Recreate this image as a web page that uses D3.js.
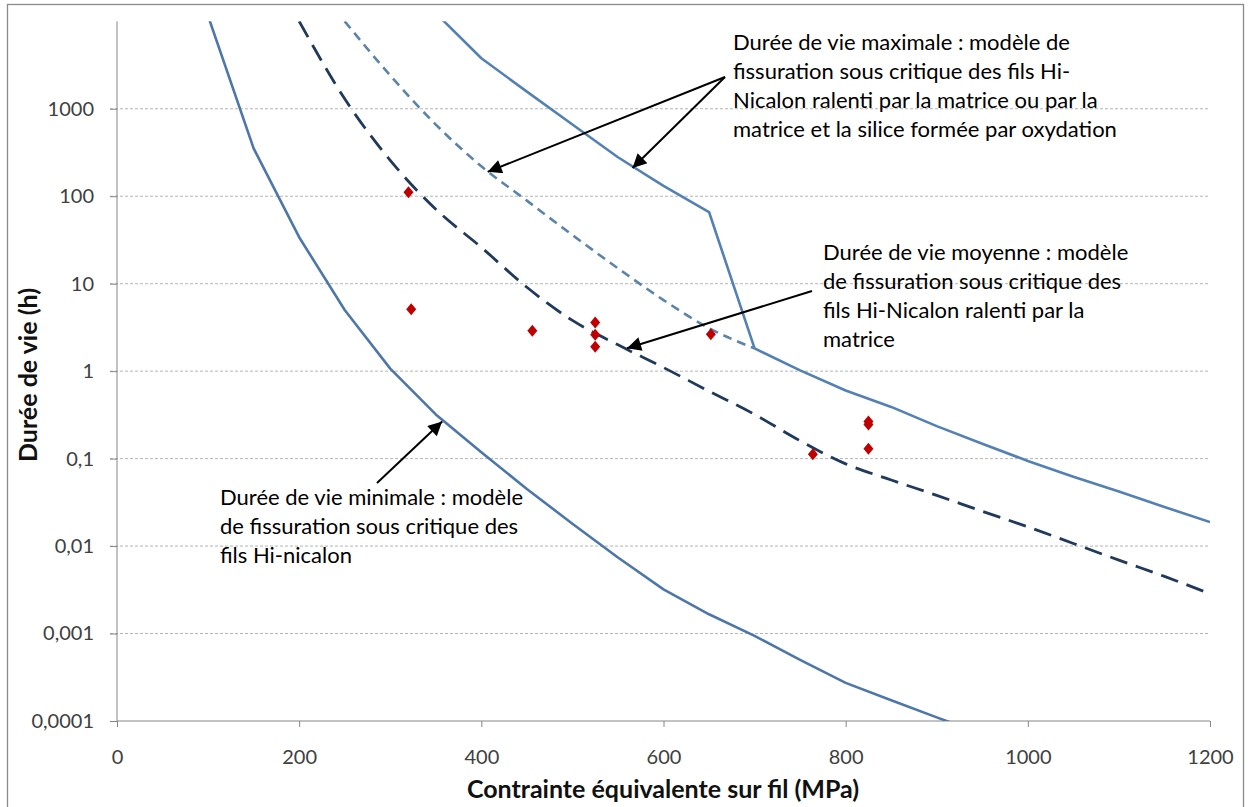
<!DOCTYPE html>
<html><head><meta charset="utf-8">
<script src="https://cdn.jsdelivr.net/npm/d3@7"></script>
<style>
html,body{margin:0;padding:0;background:#fff;}
svg{display:block;}
text{font-family:Lato,"Open Sans",sans-serif;}
</style></head>
<body>
<svg id="chart" width="1250" height="807"></svg>
<script>
// ---- data ----
const xTicks = [0,200,400,600,800,1000,1200];
const yTicks = [0.0001,0.001,0.01,0.1,1,10,100,1000];
const yTickLabels = ["0,0001","0,001","0,01","0,1","1","10","100","1000"];

// minimum lifetime model (solid)
const stressMin = [100,150,200,250,300,350,400,450,500,550,600,650,700,750,800,850,900,950];
const lifeMin   = [11500,352,34,5.0,1.07,0.32,0.118,0.045,0.018,0.0074,0.0032,0.00166,0.00094,0.0005,0.000273,0.000173,0.00011,0.000071];

// mean lifetime model (long dashes)
const stressMean = [200,250,300,350,400,450,500,550,600,650,700,750,800,850,900,950,1000,1050,1100,1150,1200];
const lifeMean   = [10000,1300,257,71,26,9.1,3.8,2.0,1.1,0.59,0.32,0.16,0.087,0.057,0.038,0.025,0.0166,0.0107,0.0069,0.0045,0.00285];

// max lifetime model, matrix + silica branch (short dashes)
const stressSilica = [250,300,350,400,450,500,550,600,650,700];
const lifeSilica   = [10000,2400,660,220,89,36,15,6.5,3.1,1.82];

// max lifetime model (solid)
const stressMax = [350,400,450,500,550,600,650,700,750,800,850,900,950,1000,1050,1100,1150,1200];
const lifeMax   = [12400,3780,1570,660,279,131,66,1.82,1.02,0.6,0.39,0.235,0.148,0.094,0.062,0.042,0.028,0.0188];

// experimental points
const stressExp = [320,323,456,525,525,525,652,764,825,825,825];
const lifeExp   = [111,5.1,2.9,3.6,2.6,1.9,2.65,0.112,0.265,0.245,0.13];

// ---- layout ----
const svg = d3.select("#chart");
const L = 117, R = 1210, T = 21.3, B = 721;
const x = d3.scaleLinear().domain([0,1200]).range([L,R]);
const y = d3.scaleLog().domain([0.0001,10000]).range([B,T]);

// outer border
svg.append("rect").attr("x",7.5).attr("y",4.5).attr("width",1236).attr("height",810)
  .attr("fill","#fff").attr("stroke","#8a8a8a").attr("stroke-width",1.3);

// gridlines
svg.append("g").selectAll("line").data(yTicks.filter(d=>d>0.0001)).join("line")
  .attr("x1",L-7).attr("x2",R).attr("y1",d=>y(d)).attr("y2",d=>y(d))
  .attr("stroke","#b4b4b4").attr("stroke-width",1).attr("stroke-dasharray","3,2");

// axes
const yAxis = d3.axisLeft(y).tickValues(yTicks).tickFormat((d,i)=>yTickLabels[i]).tickSize(7).tickPadding(16);
const gy = svg.append("g").attr("transform",`translate(${L},0)`).call(yAxis);
gy.select(".domain").attr("stroke","#868686").attr("d",`M0,${T}V${B}`);
gy.selectAll(".tick line").attr("stroke","#868686");
gy.selectAll(".tick text").attr("fill","#404040").style("font-size","20px").attr("font-family","Lato");

const xAxis = d3.axisBottom(x).tickValues(xTicks).tickFormat(d3.format("d")).tickSize(6).tickPadding(23);
const gx = svg.append("g").attr("transform",`translate(0,${B})`).call(xAxis);
gx.select(".domain").attr("stroke","#868686").attr("d",`M${L},0H${R}`);
gx.selectAll(".tick line").attr("stroke","#868686");
gx.selectAll(".tick text").attr("fill","#404040").style("font-size","20px").attr("font-family","Lato");

// axis titles
svg.append("text").attr("x",663).attr("y",798).attr("text-anchor","middle")
  .style("font-size","25px").style("font-weight","bold").attr("fill","#111")
  .text("Contrainte équivalente sur fil (MPa)");
svg.append("text").attr("transform",`translate(37,375) rotate(-90)`).attr("text-anchor","middle")
  .style("font-size","25px").style("font-weight","bold").attr("fill","#111")
  .text("Durée de vie (h)");

// clip
svg.append("clipPath").attr("id","plotclip").append("rect")
  .attr("x",L).attr("y",T).attr("width",R-L).attr("height",B-T);
const plot = svg.append("g").attr("clip-path","url(#plotclip)");

const line = d3.line().x(d=>x(d[0])).y(d=>y(d[1]));
const smooth = d3.line().x(d=>x(d[0])).y(d=>y(d[1])).curve(d3.curveMonotoneX);
function series(xs, ys){ return xs.map((v,i)=>[v,ys[i]]); }

plot.append("path").datum(series(stressMin,lifeMin)).attr("d",line)
  .attr("fill","none").attr("stroke","#4d77a8").attr("stroke-width",2.6).attr("stroke-linejoin","round");
plot.append("path").datum(series(stressMax,lifeMax)).attr("d",line)
  .attr("fill","none").attr("stroke","#5381b3").attr("stroke-width",2.6).attr("stroke-linejoin","round");
plot.append("path").datum(series(stressSilica,lifeSilica)).attr("d",smooth)
  .attr("fill","none").attr("stroke","#5a84aa").attr("stroke-width",2.6).attr("stroke-dasharray","9,6");
plot.append("path").datum(series(stressMean,lifeMean)).attr("d",smooth)
  .attr("fill","none").attr("stroke","#203a5c").attr("stroke-width",2.8).attr("stroke-dasharray","18,9");

// experimental points
plot.append("g").selectAll("path").data(series(stressExp,lifeExp)).join("path")
  .attr("transform",d=>`translate(${x(d[0])},${y(d[1])})`)
  .attr("d","M0,-6L5,0L0,6L-5,0Z").attr("fill","#c00000");

// annotations
const defs = svg.append("defs");
defs.append("marker").attr("id","arr").attr("viewBox","0 0 10 10").attr("refX",10).attr("refY",5)
  .attr("markerWidth",8.5).attr("markerHeight",7).attr("markerUnits","strokeWidth").attr("orient","auto")
  .append("path").attr("d","M0,0L10,5L0,10Z").attr("fill","#000");

function arrow(x1,y1,tx,ty){
  svg.append("line").attr("x1",x1).attr("y1",y1).attr("x2",x(tx)).attr("y2",y(ty))
    .attr("stroke","#000").attr("stroke-width",2).attr("marker-end","url(#arr)");
}
arrow(725,77, 407,190);
arrow(725,77, 566,210);
arrow(812,291, 560,1.83);
arrow(377,483, 357,0.265);

function note(x0, y0, lines){
  const t = svg.append("text").attr("x",x0).attr("y",y0).style("font-size","22px").attr("fill","#000");
  lines.forEach((s,i)=>t.append("tspan").attr("x",x0).attr("dy",i?29:0).text(s));
}
note(733,50,["Durée de vie maximale : modèle de","fissuration sous critique des fils Hi-","Nicalon ralenti par la matrice ou par la","matrice et la silice formée par oxydation"]);
note(823,260,["Durée de vie moyenne : modèle","de fissuration sous critique des","fils Hi-Nicalon ralenti par la","matrice"]);
note(220,505,["Durée de vie minimale : modèle","de fissuration sous critique des","fils Hi-nicalon"]);
</script>
</body></html>
